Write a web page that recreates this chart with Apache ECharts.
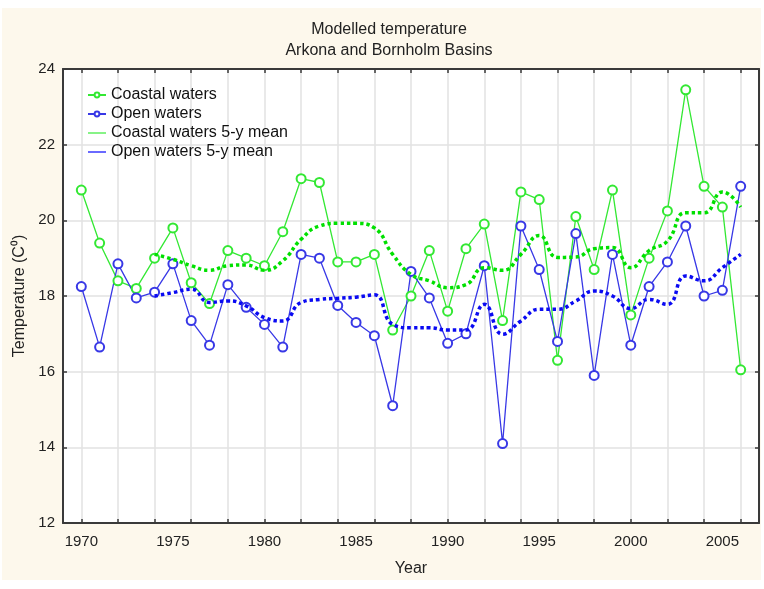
<!DOCTYPE html>
<html>
<head>
<meta charset="utf-8">
<title>Modelled temperature - Arkona and Bornholm Basins</title>
<script src="https://cdn.jsdelivr.net/npm/echarts@6/dist/echarts.min.js"></script>
<style>
  html, body { margin: 0; padding: 0; background: #ffffff; }
  #frame { position: absolute; left: 2px; top: 8px; width: 759px; height: 572px; background: #fdf8ec; }
  #chart { position: absolute; left: 0; top: 0; width: 764px; height: 589px; }
</style>
</head>
<body>
<div id="frame"></div>
<div id="chart"></div>
<script>
// Axis categories (years on the horizontal scale)
const axisYears = ['1969','1970','1971','1972','1973','1974','1975','1976','1977','1978',
  '1979','1980','1981','1982','1983','1984','1985','1986','1987','1988',
  '1989','1990','1991','1992','1993','1994','1995','1996','1997','1998',
  '1999','2000','2001','2002','2003','2004','2005','2006','2007'];

// Annual values, 1970-2006
const dataYears = ['1970','1971','1972','1973','1974','1975','1976','1977','1978','1979',
  '1980','1981','1982','1983','1984','1985','1986','1987','1988','1989',
  '1990','1991','1992','1993','1994','1995','1996','1997','1998','1999',
  '2000','2001','2002','2003','2004','2005','2006'];

const coastal = [20.8, 19.4, 18.4, 18.2, 19.0, 19.8, 18.35, 17.8, 19.2, 19.0,
  18.8, 19.7, 21.1, 21.0, 18.9, 18.9, 19.1, 17.1, 18.0, 19.2,
  17.6, 19.25, 19.9, 17.35, 20.75, 20.55, 16.3, 20.1, 18.7, 20.8,
  17.5, 19.0, 20.25, 23.45, 20.9, 20.35, 16.05];

const openWaters = [18.25, 16.65, 18.85, 17.95, 18.1, 18.85, 17.35, 16.7, 18.3, 17.7,
  17.25, 16.65, 19.1, 19.0, 17.75, 17.3, 16.95, 15.1, 18.65, 17.95,
  16.75, 17.0, 18.8, 14.1, 19.85, 18.7, 16.8, 19.65, 15.9, 19.1,
  16.7, 18.25, 18.9, 19.85, 18.0, 18.15, 20.9];

// 5-year means, 1974-2006
const meanYears = ['1974','1975','1976','1977','1978','1979',
  '1980','1981','1982','1983','1984','1985','1986','1987','1988','1989',
  '1990','1991','1992','1993','1994','1995','1996','1997','1998','1999',
  '2000','2001','2002','2003','2004','2005','2006'];

const coastalMean = [19.1, 18.97, 18.8, 18.68, 18.8, 18.82,
  18.68, 18.93, 19.5, 19.85, 19.92, 19.92, 19.8, 19.1, 18.57, 18.4,
  18.22, 18.3, 18.75, 18.68, 19.1, 19.6, 19.02, 19.03, 19.25, 19.28,
  18.75, 19.2, 19.45, 20.2, 20.2, 20.75, 20.35];

const openMean = [18.0, 18.09, 18.18, 17.83, 17.87, 17.74,
  17.43, 17.34, 17.83, 17.91, 17.94, 17.97, 18.03, 17.25, 17.16, 17.16,
  17.1, 17.1, 17.78, 16.99, 17.34, 17.65, 17.65, 17.87, 18.13, 18.0,
  17.67, 17.91, 17.78, 18.53, 18.4, 18.75, 19.1];

const seriesNames = ['Coastal waters', 'Open waters', 'Coastal waters 5-y mean', 'Open waters 5-y mean'];

const pairs = (xs, ys) => xs.map((x, i) => [x, ys[i]]);

const FONT = '"Liberation Sans", Arial, sans-serif';
const frameLine = { show: true, lineStyle: { color: '#3a3a3a', width: 2 } };
const evenYear = (idx, val) => (+val) % 2 === 0;
// thin horizontal bar used as the legend key of the mean curves
const barIcon = 'path://M0,0 L20,0 L20,2 L0,2 Z';

const chart = echarts.init(document.getElementById('chart'), null, { renderer: 'canvas' });

chart.setOption({
  animation: false,
  backgroundColor: 'transparent',
  textStyle: { fontFamily: FONT },
  title: {
    text: 'Modelled temperature\nArkona and Bornholm Basins',
    left: 384,
    top: 14,
    textAlign: 'center',
    textStyle: { fontFamily: FONT, fontSize: 16, fontWeight: 'normal', color: '#222', lineHeight: 21 }
  },
  grid: {
    left: 63, top: 69, width: 696, height: 454,
    show: true, backgroundColor: '#ffffff', borderWidth: 0
  },
  legend: {
    orient: 'vertical',
    left: 82,
    top: 82,
    padding: 5,
    itemWidth: 18,
    itemHeight: 6,
    itemGap: 3,
    textStyle: { fontFamily: FONT, fontSize: 16, color: '#111', lineHeight: 16 },
    data: [
      { name: seriesNames[0] },
      { name: seriesNames[1] },
      { name: seriesNames[2], icon: barIcon, itemStyle: { color: '#7af27a' } },
      { name: seriesNames[3], icon: barIcon, itemStyle: { color: '#5a5aff' } }
    ]
  },
  xAxis: [
    {
      type: 'category',
      data: axisYears,
      boundaryGap: false,
      position: 'bottom',
      name: 'Year',
      nameLocation: 'middle',
      nameGap: 38,
      nameTextStyle: { fontFamily: FONT, fontSize: 16, color: '#222' },
      axisLine: frameLine,
      axisTick: { show: true, inside: true, length: 4, interval: evenYear, lineStyle: { color: '#3a3a3a', width: 1.5 } },
      axisLabel: {
        interval: (idx, val) => (+val) % 5 === 0,
        margin: 11, fontFamily: FONT, fontSize: 15, color: '#222'
      },
      splitLine: { show: true, interval: evenYear, lineStyle: { color: '#e2e2e2', width: 1.5 } }
    },
    {
      type: 'category',
      data: axisYears,
      boundaryGap: false,
      position: 'top',
      axisLine: frameLine,
      axisTick: { show: true, inside: true, length: 4, interval: evenYear, lineStyle: { color: '#3a3a3a', width: 1.5 } },
      axisLabel: { show: false },
      splitLine: { show: false }
    }
  ],
  yAxis: [
    {
      type: 'value',
      min: 12, max: 24, interval: 2,
      position: 'left',
      name: 'Temperature (C\u2070)',
      nameLocation: 'middle',
      nameRotate: 90,
      nameGap: 34,
      nameTextStyle: { fontFamily: FONT, fontSize: 16, color: '#222' },
      axisLine: frameLine,
      axisTick: { show: true, inside: true, length: 4, lineStyle: { color: '#3a3a3a', width: 1.5 } },
      axisLabel: { margin: 8, fontFamily: FONT, fontSize: 15, color: '#222' },
      splitLine: { show: true, lineStyle: { color: '#e2e2e2', width: 1.5 } }
    },
    {
      type: 'value',
      min: 12, max: 24, interval: 2,
      position: 'right',
      axisLine: frameLine,
      axisTick: { show: true, inside: true, length: 4, lineStyle: { color: '#3a3a3a', width: 1.5 } },
      axisLabel: { show: false },
      splitLine: { show: false }
    }
  ],
  series: [
    {
      name: seriesNames[0],
      type: 'line',
      data: pairs(dataYears, coastal),
      symbol: 'emptyCircle',
      symbolSize: 9,
      color: '#33e833',
      lineStyle: { color: '#33e833', width: 1.3 },
      itemStyle: { color: '#33e833', borderWidth: 1.3 },
      z: 3
    },
    {
      name: seriesNames[1],
      type: 'line',
      data: pairs(dataYears, openWaters),
      symbol: 'emptyCircle',
      symbolSize: 9,
      color: '#3838e6',
      lineStyle: { color: '#3838e6', width: 1.3 },
      itemStyle: { color: '#3838e6', borderWidth: 1.3 },
      z: 3
    },
    {
      name: seriesNames[2],
      type: 'line',
      data: pairs(meanYears, coastalMean),
      smooth: 0.5,
      symbol: 'none',
      color: '#00e000',
      lineStyle: { color: '#00e000', width: 3.5, type: [3.5, 3] },
      z: 4
    },
    {
      name: seriesNames[3],
      type: 'line',
      data: pairs(meanYears, openMean),
      smooth: 0.5,
      symbol: 'none',
      color: '#0a0af2',
      lineStyle: { color: '#0a0af2', width: 3.5, type: [3.5, 3] },
      z: 4
    }
  ]
});
</script>
</body>
</html>
